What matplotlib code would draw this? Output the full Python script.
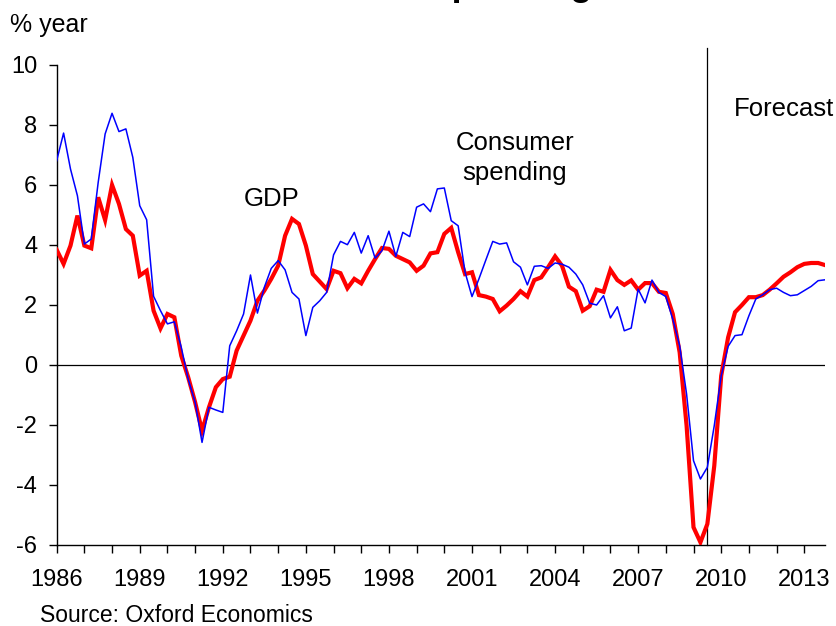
import numpy as np
import matplotlib.pyplot as plt
import matplotlib

matplotlib.rc('font', family=['Liberation Sans', 'DejaVu Sans'])
matplotlib.rc('axes', unicode_minus=False)

# quarterly growth, % year, 1986Q1 .. 2013Q4
gdp = [3.84, 3.37, 3.98, 4.98,  3.98, 3.89, 5.59, 4.83,  6.0, 5.37, 4.53, 4.31,
       2.98, 3.14, 1.81, 1.22,  1.7, 1.59, 0.31, -0.41,  -1.24, -2.19, -1.41, -0.74,
       -0.47, -0.39, 0.48, 0.98,  1.48, 2.14, 2.48, 2.87,  3.31, 4.31, 4.87, 4.7,
       3.98, 3.03, 2.78, 2.53,  3.14, 3.06, 2.56, 2.87,  2.72, 3.14, 3.53, 3.9,
       3.87, 3.64, 3.53, 3.42,  3.14, 3.31, 3.72, 3.76,  4.37, 4.57, 3.76, 3.03,
       3.09, 2.33, 2.28, 2.2,  1.79, 1.98, 2.2, 2.46,  2.28, 2.83, 2.92, 3.26,
       3.62, 3.31, 2.61, 2.46,  1.81, 1.96, 2.51, 2.44,  3.17, 2.83, 2.67, 2.82,
       2.51, 2.73, 2.73, 2.44,  2.4, 1.7, 0.42, -2.02,  -5.41, -5.91, -5.3, -3.36,
       -0.36, 0.92, 1.76, 2.0,  2.26, 2.26, 2.33, 2.51,  2.72, 2.94, 3.09, 3.26,
       3.37, 3.4, 3.4, 3.33]
consumer = [6.81, 7.73, 6.53, 5.64,  4.03, 4.2, 6.09, 7.7,  8.39, 7.78, 7.87, 6.92,
            5.31, 4.84, 2.29, 1.81,  1.37, 1.44, 0.59, -0.47,  -1.24, -2.58, -1.41, -1.5,
            -1.58, 0.64, 1.14, 1.7,  3.0, 1.73, 2.59, 3.22,  3.48, 3.17, 2.42, 2.2,
            0.98, 1.92, 2.14, 2.42,  3.67, 4.12, 4.01, 4.42,  3.73, 4.31, 3.56, 3.81,
            4.46, 3.62, 4.42, 4.28,  5.26, 5.37, 5.11, 5.87,  5.9, 4.81, 4.64, 3.09,
            2.28, 2.87, 3.5, 4.12,  4.03, 4.07, 3.44, 3.26,  2.67, 3.29, 3.31, 3.22,
            3.4, 3.36, 3.26, 3.03,  2.67, 2.06, 2.0, 2.31,  1.57, 1.94, 1.14, 1.23,
            2.53, 2.07, 2.83, 2.42,  2.28, 1.53, 0.64, -0.97,  -3.19, -3.8, -3.41, -2.02,
            -0.36, 0.62, 0.98, 1.01,  1.64, 2.2, 2.34, 2.51,  2.56, 2.42, 2.31, 2.34,
            2.48, 2.62, 2.81, 2.84]
start_year = 1986
forecast_start = 2009.5
year_labels = list(range(1986, 2014, 3))

t = start_year + np.arange(len(gdp)) / 4.0

fig = plt.figure(figsize=(8.37, 6.26), dpi=100)
ax = fig.add_axes([0.0677, 0.1294, 0.918, 0.7668])

ax.plot(t, gdp, color='#FF0000', linewidth=3.0, solid_joinstyle='miter', zorder=3)
ax.plot(t, consumer, color='#0000FF', linewidth=1.1, zorder=4)

ax.axhline(0, color='black', linewidth=0.9, zorder=2)
ax.plot([forecast_start, forecast_start], [-6, 10.57], color='black',
        linewidth=0.9, clip_on=False, zorder=2)

ax.set_xlim(1986, 2013.75)
ax.set_ylim(-6, 10)
ax.set_yticks(range(-6, 11, 2))
ax.set_xticks(range(1986, 2014))
ax.set_xticklabels([str(y) if y in year_labels else '' for y in range(1986, 2014)])

for s in ['top', 'right']:
    ax.spines[s].set_visible(False)
for s in ['left', 'bottom']:
    ax.spines[s].set_linewidth(1.0)
ax.tick_params(axis='both', direction='out', length=6, width=1.0,
               labelsize=17, colors='black')
ax.tick_params(axis='x', pad=11)
ax.tick_params(axis='y', pad=8)

ax.text(1993.76, 5.53, 'GDP', fontsize=18.5, ha='center', va='center')
ax.text(2002.55, 6.9, 'Consumer\nspending', fontsize=18.5, ha='center',
        va='center', linespacing=1.3)
ax.text(2010.46, 8.53, 'Forecast', fontsize=18.5, ha='left', va='center',
        clip_on=False)

fig.text(10 / 837, 1 - 25 / 626, '% year', fontsize=18, ha='left', va='center')
fig.text(40 / 837, 1 - 615 / 626, 'Source: Oxford Economics', fontsize=16.5,
         ha='left', va='center')
# chart title sits above the top edge, only its descenders show
fig.text(418 / 837, 1 + 5 / 626, 'Consumer spending', fontsize=26,
         fontweight='bold', ha='center', va='baseline')

fig.savefig('out.png', dpi=100)
